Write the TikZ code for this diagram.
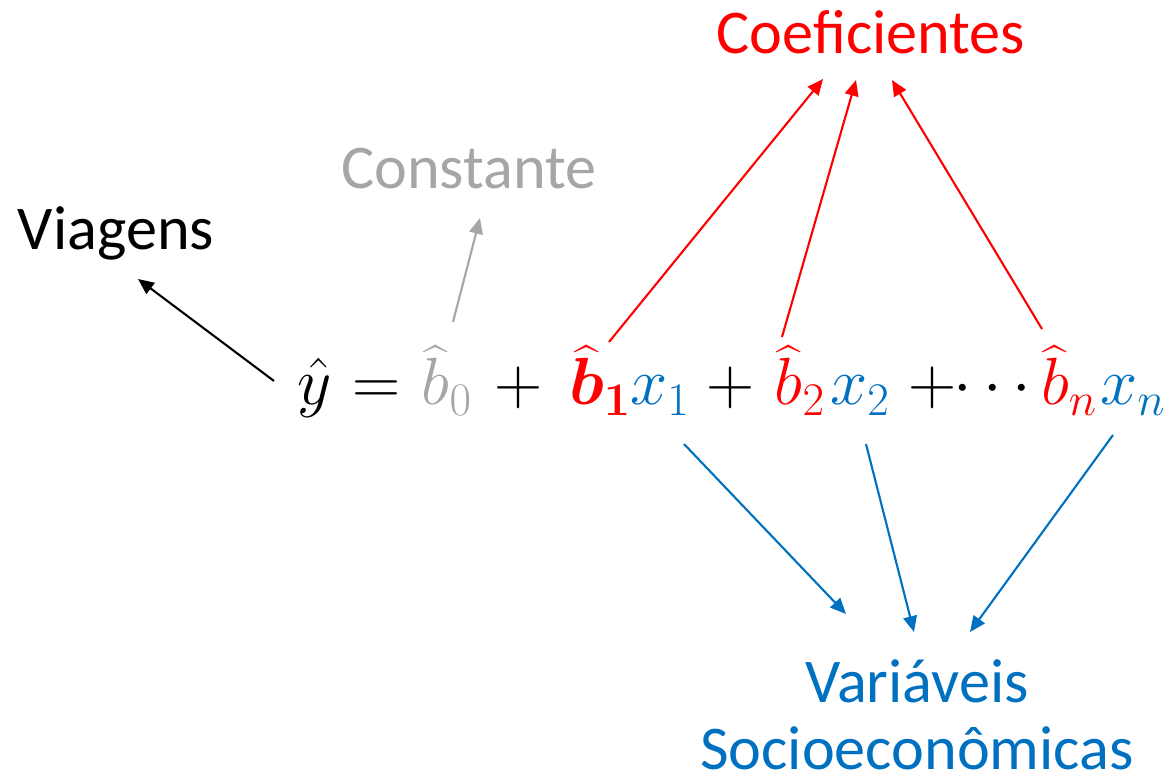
\RequirePackage{fix-cm}
\documentclass[tikz,border=0pt]{standalone}
\usepackage[no-math]{fontspec}
\setmainfont{Carlito}
\usepackage{amsmath,bm}
\usetikzlibrary{arrows.meta,calc}
\definecolor{cred}{RGB}{255,0,0}
\definecolor{cblue}{RGB}{0,112,192}
\definecolor{cgray}{RGB}{166,166,166}
\tikzset{
  lbl/.style={inner sep=0pt, anchor=base, font=\fontsize{35.4}{38.6}\selectfont},
  eq/.style={inner sep=0pt, anchor=base, font=\fontsize{38}{40}\selectfont},
  conn/.style={line width=1.2pt, -{Triangle[length=9pt,width=7.8pt]}},
}
\begin{document}
\begin{tikzpicture}[x=0.02cm,y=-0.02cm]
\useasboundingbox (0,0) rectangle (1174,783);
% labels
\node[lbl, text=cred] (coef) at (871,54) {Coeficientes};
\node[lbl, text=cgray] (const) at (469,189) {Constante};
\node[lbl] (viag) at (116,250) {Viagens};
\node[lbl, text=cblue, align=center] (var) at (917,770) {Variáveis\\Socioeconômicas};
% equation
\node[eq] (yhat) at (315,405) {$\hat{y}$};
\node[eq] (eqs) at (377,405) {$=$};
\node[eq, text=cgray] (b0) at (447,405) {$\widehat{b}_0$};
\node[eq] (p1) at (519,405) {$+$};
\node[eq, text=cred] (b1) at (600,405) {$\widehat{\bm b}_{\bm 1}$};
\node[eq, text=cblue] (x1) at (660,405) {$x_1$};
\node[eq] (p2) at (731,405) {$+$};
\node[eq, text=cred] (b2) at (800,405) {$\widehat{b}_2$};
\node[eq, text=cblue] (x2) at (860,405) {$x_2$};
\node[eq] (p3) at (933,405) {$+$};
\node[eq] (dots) at (998,405) {$\cdots$};
\node[eq, text=cred] (bn) at (1069,405) {$\widehat{b}_n$};
\node[eq, text=cblue] (xn) at (1133,405) {$x_n$};
% connectors
\draw[conn] ($(yhat.base)+(-41,-24)$) -- ($(viag.base)+(22,29)$);
\draw[conn, cgray] ($(b0.base)+(6,-83)$) -- ($(const.base)+(11,29)$);
\draw[conn, cred] ($(b1.base)+(9,-63)$) -- ($(coef.base)+(-48,25)$);
\draw[conn, cred] ($(b2.base)+(-18,-68)$) -- ($(coef.base)+(-15,26)$);
\draw[conn, cred] ($(bn.base)+(-27,-76)$) -- ($(coef.base)+(21,26)$);
\draw[conn, cblue] ($(x1.base)+(24,39)$) -- ($(var.base)+(-71,-156)$);
\draw[conn, cblue] ($(x2.base)+(6,39)$) -- ($(var.base)+(-3,-138)$);
\draw[conn, cblue] ($(xn.base)+(-20,30)$) -- ($(var.base)+(53,-138)$);
\end{tikzpicture}
\end{document}
